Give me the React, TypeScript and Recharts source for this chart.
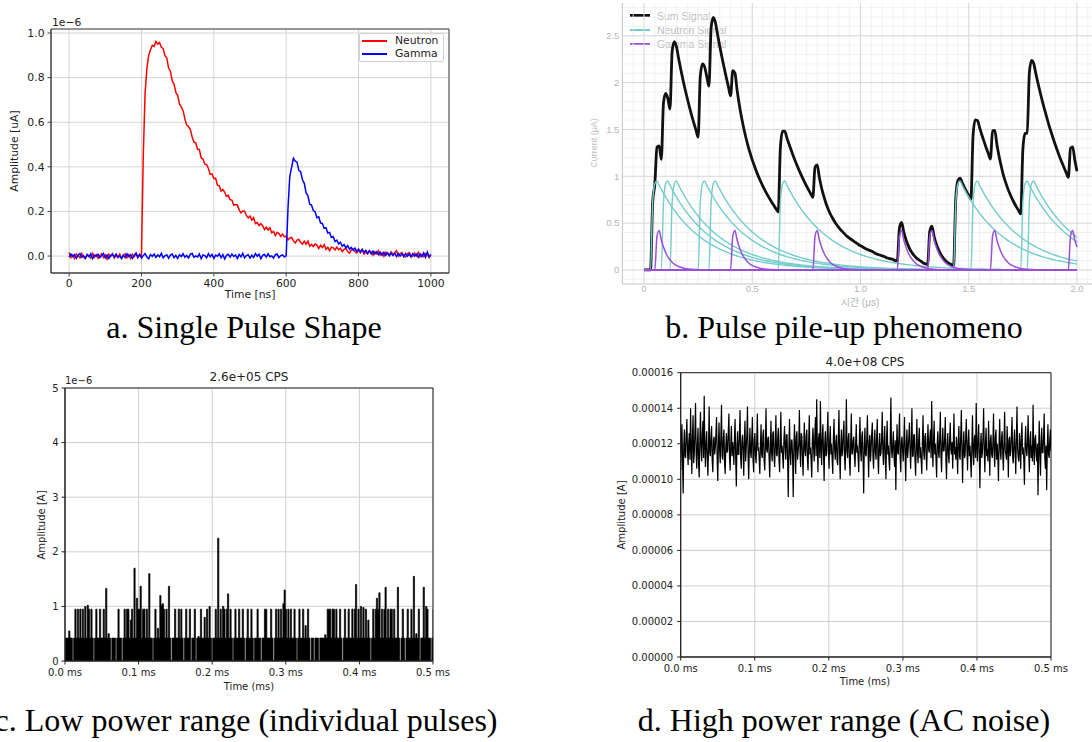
import React from 'react';
import {
  LineChart, Line, XAxis, YAxis, CartesianGrid, ReferenceArea, ReferenceLine, AreaChart, Area,
} from 'recharts';

// ---------------- a. Single Pulse Shape (sampled every 5 ns) ----------------
const aStepNs = 5;
const aNeutron = [
  0.016, -0.006, 0.004, -0.011, 0.009, 0.002, -0.008, 0.011, -0.004, -0.012,
  0.007, 0.001, -0.009, 0.012, -0.005, 0.006, -0.01, 0.003, 0.01, -0.007,
  0.005, -0.013, 0.008, -0.002, 0.011, -0.009, 0.002, -0.006, 0.009, -0.012,
  0.004, 0.01, -0.007, 0.006, -0.011, 0.008, -0.003, 0.012, -0.008, 0.005,
  -0.002,
  0.45, 0.73, 0.84, 0.9, 0.925, 0.945, 0.94, 0.962, 0.95, 0.957, 0.936, 0.931, 0.897, 0.889, 0.843, 0.829, 0.785, 0.771, 0.734,
  0.721, 0.682, 0.669, 0.652, 0.615, 0.587, 0.581, 0.567, 0.535, 0.511,
  0.508, 0.479, 0.478, 0.44, 0.435, 0.412, 0.411, 0.393, 0.366, 0.368,
  0.347, 0.349, 0.318, 0.316, 0.291, 0.299, 0.286, 0.267, 0.272, 0.253,
  0.251, 0.228, 0.231, 0.229, 0.207, 0.194, 0.202, 0.201, 0.182, 0.171,
  0.179, 0.161, 0.172, 0.145, 0.15, 0.137, 0.145, 0.136, 0.119, 0.129,
  0.117, 0.127, 0.104, 0.11, 0.092, 0.106, 0.101, 0.088, 0.099, 0.086,
  0.09, 0.073, 0.081, 0.084, 0.068, 0.059, 0.072, 0.075, 0.061, 0.054,
  0.067, 0.053, 0.067, 0.044, 0.052, 0.043, 0.054, 0.049, 0.034, 0.048,
  0.038, 0.051, 0.03, 0.039, 0.024, 0.04, 0.037, 0.027, 0.04, 0.029,
  0.035, 0.02, 0.03, 0.035, 0.02, 0.013, 0.027, 0.032, 0.019, 0.014,
  0.028, 0.015, 0.03, 0.009, 0.018, 0.01, 0.023, 0.018, 0.004, 0.019,
  0.01, 0.024, 0.004, 0.014, -0.001, 0.017, 0.014, 0.005, 0.019, 0.008,
  0.015, 0.024, 0.0, 0.011, 0.016, 0.002, -0.004, 0.01, 0.016, 0.004,
  -0.001, 0.013, 0.001, 0.017, -0.004, 0.006, -0.002, 0.011, 0.007, -0.006,
  0.009,
];
const aGamma = [
  -0.005, 0.009, -0.002, 0.007, -0.01, 0.003, 0.011, -0.006, 0.001, -0.009,
  0.006, -0.003, 0.01, -0.012, 0.004, -0.001, 0.008, -0.007, 0.002, 0.012,
  -0.008, 0.005, -0.011, 0.003, 0.007, -0.004, 0.009, -0.006, 0.0, -0.01,
  0.004, -0.007, 0.01, -0.002, 0.006, -0.011, 0.003, 0.013, -0.005, 0.008,
  -0.009, 0.002, 0.011, -0.004, -0.012, 0.007, -0.001, 0.009, -0.006, 0.005,
  -0.003, 0.012, -0.008, 0.001, 0.006, -0.01, 0.004, 0.009, -0.007, 0.003,
  -0.011, 0.006, -0.002, 0.01, -0.005, 0.003, -0.009, 0.008, 0.012, -0.006,
  0.001, -0.004, 0.009, -0.012, 0.005, 0.002, -0.008, 0.011, -0.003, 0.007,
  -0.01, 0.004, -0.001, 0.01, -0.007, 0.006, -0.013, 0.003, 0.008, -0.005,
  0.009, -0.002, 0.005, -0.011, 0.007, -0.004, 0.012, -0.008, 0.002, 0.006,
  -0.009, 0.004, -0.006, 0.011, -0.001, 0.008, -0.012, 0.003, 0.007, -0.005,
  0.01, -0.003, 0.001, -0.009, 0.006, 0.009, -0.007, 0.002, 0.005, -0.004,
  0.001, 0.214, 0.357, 0.398, 0.438, 0.425, 0.421, 0.384, 0.378, 0.342,
  0.326, 0.283, 0.271, 0.232, 0.229, 0.204, 0.199, 0.172, 0.176, 0.148,
  0.146, 0.124, 0.127, 0.103, 0.106, 0.083, 0.087, 0.065, 0.071, 0.054,
  0.062, 0.044, 0.052, 0.036, 0.047, 0.031, 0.039, 0.026, 0.036, 0.021,
  0.031, 0.018, 0.029, 0.016, 0.026, 0.012, 0.024, 0.01, 0.022, 0.009,
  0.019, 0.006, 0.017, 0.004, 0.016, 0.003, 0.014, 0.001, 0.013, 0.002,
  0.012, -0.002, 0.011, 0.0, 0.01, -0.003, 0.012, -0.001, 0.009, -0.004,
  0.011, 0.0, 0.008, -0.005, 0.01, -0.002, 0.014, -0.006, 0.018, -0.003,
  0.004,
];
const aXTicks = [0, 200, 400, 600, 800, 1000];
const aYTicks = [0, 0.2, 0.4, 0.6, 0.8, 1.0];

// ---------------- b. Pulse pile-up (sampled every 0.01 us) ----------------
const bStepUs = 0.01;
const bSamples = 201;
const bNeutronStartsUs = [0.03, 0.08, 0.12, 0.25, 0.3, 0.62, 1.43, 1.51, 1.74, 1.77];
const bGammaStartsUs = [0.05, 0.4, 0.78, 1.17, 1.31, 1.6, 1.96];
const bNeutronPulse = [
  0, 0.72, 0.92, 0.95,
  0.904, 0.86, 0.818, 0.778, 0.74, 0.704, 0.669, 0.637, 0.606, 0.576,
  0.548, 0.521, 0.496, 0.472, 0.449, 0.427, 0.406, 0.386, 0.367, 0.349,
  0.332, 0.316, 0.301, 0.286, 0.272, 0.259, 0.246, 0.234, 0.223, 0.212,
  0.202, 0.192, 0.182, 0.174, 0.165, 0.157, 0.149, 0.142, 0.135, 0.129,
  0.122, 0.116, 0.111, 0.105, 0.1, 0.095, 0.091, 0.086, 0.082, 0.078,
  0.074, 0.071, 0.067, 0.064, 0.061, 0.058, 0.055, 0.052, 0.05, 0.047,
  0.045, 0.043, 0.041, 0.039, 0.037, 0.035, 0.033, 0.032, 0.03, 0.029,
  0.027, 0.026, 0.025, 0.023, 0.022, 0.021, 0.02, 0.019, 0.018, 0.017,
  0.017, 0.016, 0.015, 0.014, 0.013, 0.013, 0.012, 0.011, 0.011, 0.011,
  0.01, 0.01, 0.009, 0.009, 0.008, 0.008, 0.007, 0.007, 0.007, 0.006,
];
const bGammaPulse = [
  0, 0.36, 0.42, 0.32, 0.245, 0.187, 0.142, 0.109, 0.083, 0.063, 0.048,
  0.037, 0.028, 0.021, 0.016, 0.012, 0.009, 0.007, 0.005, 0.004, 0.003, 0.002, 0.001,
];
const bXTicks = [0, 0.5, 1.0, 1.5, 2.0];
const bYTicks = [0, 0.5, 1, 1.5, 2, 2.5];

// ---------------- c. Low power range (0.5 ms window) ----------------
const cAmplitudeMicroA = [
  0.42, 0.42, 0.42, 0.55, 0.42, 0.42, 0, 0.42, 0.95, 0.42, 0.95, 0.42, 0.95, 0.42, 0.95, 0.42, 1.0, 0.42, 1.02, 0.95,
  0.42, 0.95, 0.42, 0, 0.42, 0.95, 0.42, 0.42, 0.95, 0.42, 0.42, 0.95, 0.42, 1.33, 0.42, 0.5, 0.42, 0, 0.42, 0.42,
  0.42, 0, 0.42, 0.95, 0.42, 0.42, 0, 0.42, 0.95, 0.42, 0.95, 0.95, 0.42, 0.75, 0.95, 0.42, 1.7, 0.42, 1.15, 0.95,
  0.95, 1.37, 0.42, 0.95, 0.95, 0.42, 0.95, 0.42, 1.6, 0.42, 0.42, 0, 0.42, 0.95, 0.42, 0.6, 0.42, 1.2, 1.02, 1.05,
  0.95, 0.42, 0.95, 0.42, 1.37, 0.42, 0, 0.42, 0.42, 0.95, 0.42, 0.42, 0.95, 0.42, 0.95, 0.42, 0, 0.42, 0.95, 0.42,
  0.42, 0.95, 0, 0.42, 0.42, 0.95, 0, 0.42, 0.45, 0.42, 0.95, 0.42, 0.42, 0.8, 0.42, 0.95, 0.42, 1.0, 0.42, 0,
  0.42, 0.42, 0.95, 0.42, 2.25, 0.42, 0.95, 0.42, 1.0, 0.95, 0.42, 0.95, 1.23, 0.42, 0.95, 0.42, 0, 0.42, 0.95, 0.42,
  0.42, 0.95, 0.42, 0.42, 0.95, 0.42, 0, 0.42, 0.95, 0.42, 0.42, 0.95, 0.42, 0, 0.42, 0.42, 0.95, 0.42, 0.42, 0,
  0.42, 0.42, 0.95, 0.95, 0.42, 0.42, 0.42, 0.95, 0.42, 0, 0.42, 0.95, 0.42, 0.95, 0.42, 0.95, 0.42, 1.05, 1.3, 0.95,
  0.42, 0.95, 0.42, 0.95, 0.42, 0.42, 0.95, 0.42, 0, 0.42, 0.95, 0.42, 0.42, 0.95, 0.42, 0.65, 0.42, 0.95, 0.42, 0,
  0.42, 0.42, 0, 0.42, 0.42, 0.42, 0, 0.42, 0.42, 0.42, 0.42, 0.48, 0.42, 0.95, 0.95, 0.95, 0.42, 0.95, 0.95, 0.42,
  0.95, 0.42, 0.42, 0.95, 0.42, 0, 0.42, 0.95, 0.42, 0.42, 0.95, 0.42, 0.42, 0.95, 0.42, 0.95, 1.4, 0.42, 0.95, 0.42,
  1.0, 0.42, 0.98, 0.42, 0.95, 0.42, 0.75, 0.42, 0, 0.42, 0.95, 0.42, 0.95, 1.15, 0.95, 1.25, 0.42, 0.95, 0.42, 0.95,
  1.35, 0.42, 0.95, 0.42, 0.95, 0.95, 0.42, 0.95, 0.42, 0.42, 1.35, 0.42, 0, 0.42, 0.95, 0.42, 0, 0.42, 0.95, 0.42,
  0.42, 0.95, 0.42, 1.55, 0.42, 0.5, 0.42, 0.95, 0, 0.42, 0.42, 1.35, 0.42, 1.0, 0.95, 0.42, 0.42, 0, 0.42, 0.95,
];
const cXTicks = [0, 0.1, 0.2, 0.3, 0.4, 0.5];
const cYTicks = [0, 1, 2, 3, 4, 5];

// ---------------- d. High power range (0.5 ms window, in units of 1e-6 A) ----------------
const dAmplitudeMicroA = [
  105, 122, 131, 110, 92, 119, 128, 113, 112, 125, 134, 116, 108, 121, 126, 111, 140, 118, 103, 124,
  136, 109, 115, 127, 143, 114, 106, 120, 129, 108, 101, 123, 138, 117, 110, 126, 133, 112, 147, 119,
  107, 121, 127, 112, 102, 118, 141, 115, 113, 124, 130, 110, 104, 122, 124, 114, 118, 126, 135, 111,
  99, 120, 132, 116, 109, 125, 142, 113, 111, 123, 128, 109, 103, 119, 126, 115, 116, 127, 137, 112,
  105, 120, 130, 113, 121, 117, 108, 124, 134, 111, 96, 119, 127, 114, 114, 126, 139, 112, 106, 121,
  125, 116, 102, 123, 133, 110, 117, 125, 141, 113, 100, 118, 129, 115, 112, 124, 135, 111, 104, 122,
  126, 113, 109, 122, 137, 116, 118, 111, 103, 120, 131, 114, 112, 125, 128, 110, 105, 119, 140, 117,
  115, 123, 124, 112, 101, 118, 133, 115, 110, 126, 127, 113, 107, 121, 136, 114, 113, 124, 129, 111,
  104, 121, 138, 115, 119, 112, 106, 123, 130, 117, 111, 125, 125, 110, 90, 118, 134, 114, 108, 122,
  122, 113, 90, 116, 131, 119, 103, 124, 127, 111, 116, 120, 139, 115, 107, 126, 124, 112, 102, 119,
  132, 116, 113, 124, 128, 111, 105, 121, 136, 114, 118, 110, 101, 122, 129, 117, 110, 125, 135, 113,
  145, 119, 104, 123, 126, 112, 144, 118, 108, 124, 131, 115, 99, 120, 127, 113, 114, 125, 138, 116,
  106, 122, 130, 114, 120, 111, 103, 123, 134, 117, 111, 121, 125, 110, 108, 124, 139, 115, 100, 119,
  128, 113, 116, 126, 133, 112, 105, 120, 145, 116, 112, 123, 126, 110, 102, 121, 137, 114, 115, 122,
  124, 113, 107, 120, 131, 115, 119, 112, 104, 122, 135, 116, 110, 124, 127, 111, 92, 118, 129, 114,
  113, 123, 136, 117, 101, 121, 125, 110, 117, 126, 132, 113, 106, 120, 128, 115, 111, 124, 134, 112,
  103, 119, 126, 113, 115, 122, 138, 116, 108, 121, 130, 111, 100, 123, 133, 114, 119, 110, 105, 124,
  146, 117, 112, 120, 127, 113, 107, 122, 94, 118, 131, 115, 114, 125, 137, 112, 104, 121, 124, 116,
  110, 122, 135, 114, 99, 120, 128, 112, 117, 124, 132, 116, 106, 121, 140, 113, 113, 125, 125, 111,
  102, 119, 134, 115, 109, 123, 129, 112, 118, 110, 103, 121, 136, 116, 111, 124, 126, 113, 105, 120,
  131, 117, 115, 123, 128, 112, 144, 119, 107, 122, 133, 114, 120, 111, 101, 121, 127, 115, 112, 124,
  138, 113, 104, 120, 129, 116, 116, 123, 135, 111, 100, 119, 126, 114, 109, 122, 132, 117, 114, 121,
  106, 120, 137, 114, 118, 111, 124, 116, 103, 122, 130, 113, 111, 125, 139, 115, 98, 119, 127, 112,
  113, 124, 134, 117, 105, 121, 128, 113, 119, 110, 101, 120, 136, 115, 108, 123, 125, 112, 143, 118,
  110, 123, 131, 114, 95, 119, 126, 112, 115, 124, 140, 116, 104, 121, 129, 113, 117, 110, 133, 118,
  102, 122, 125, 114, 112, 120, 137, 115, 107, 124, 128, 111, 120, 113, 99, 121, 134, 116, 111, 123,
  127, 114, 105, 121, 138, 116, 114, 111, 130, 119, 101, 122, 124, 113, 116, 125, 135, 112, 109, 120,
  128, 115, 103, 123, 141, 117, 112, 110, 126, 118, 106, 124, 132, 114, 118, 111, 97, 120, 130, 116,
  113, 121, 136, 115, 104, 122, 127, 112, 119, 110, 142, 117, 108, 123, 125, 114, 110, 120, 91, 116,
  133, 113, 102, 121, 129, 115, 115, 124, 137, 112, 106, 119, 94, 117, 131, 114, 112, 122, 128, 116,
];
const dXTicks = [0, 0.1, 0.2, 0.3, 0.4, 0.5];
const dYTicks = [0, 20, 40, 60, 80, 100, 120, 140, 160];

// ---------------- tables built from the arrays ----------------
const aRows = aNeutron.map((v, i) => ({ t: i * aStepNs, neutron: v, gamma: aGamma[i] }));

const pulseAt = (shape: number[], startUs: number, i: number) => {
  const k = i - Math.round(startUs / bStepUs);
  return k >= 0 && k < shape.length ? shape[k] : 0;
};
const bRows = Array.from({ length: bSamples }, (_, i) => {
  const row: Record<string, number> = { t: Math.round(i * bStepUs * 100) / 100 };
  let sum = 0;
  bNeutronStartsUs.forEach((s, j) => { const v = pulseAt(bNeutronPulse, s, i); row['n' + j] = v; sum += v; });
  bGammaStartsUs.forEach((s, j) => { const v = pulseAt(bGammaPulse, s, i); row['g' + j] = v; sum += v; });
  row.sum = Math.round(sum * 1000) / 1000;
  return row;
});
const bMinorX: number[] = [];
for (let k = -1; k <= 42; k++) if (k % 10 !== 0) bMinorX.push(Math.round(k * 5) / 100);
const bMinorY: number[] = [];
for (let k = -1; k <= 28; k++) if (k % 5 !== 0) bMinorY.push(k / 10);

const cRows = cAmplitudeMicroA.map((v, i) => ({ t: (i * 0.5) / (cAmplitudeMicroA.length - 1), v }));
const dRows = dAmplitudeMicroA.map((v, i) => ({ t: (i * 0.5) / (dAmplitudeMicroA.length - 1), v }));

// ---------------- styling helpers ----------------
const FONT_MPL = "'DejaVu Sans', sans-serif";
const FONT_GG = "'Liberation Sans', 'Noto Sans CJK KR', sans-serif";
const FONT_CAP = "'Liberation Serif', 'Times New Roman', serif";

type TxtProps = {
  x: number; y: number; size: number; children: React.ReactNode;
  color?: string; rotate?: number; family?: string; align?: 'center' | 'left' | 'right';
};
function Txt({ x, y, size, children, color = '#222', rotate = 0, family = FONT_MPL, align = 'center' }: TxtProps) {
  const tx = align === 'center' ? '-50%' : align === 'left' ? '0%' : '-100%';
  return (
    <div
      style={{
        position: 'absolute', left: x, top: y, fontSize: size, lineHeight: 1, fontFamily: family,
        color, whiteSpace: 'nowrap', transform: `translate(${tx},-50%) rotate(${rotate}deg)`,
      }}
    >
      {children}
    </div>
  );
}

const mplTick = (size: number) => ({ fontSize: size, fill: '#222', fontFamily: FONT_MPL });

function ChartA() {
  return (
    <div style={{ position: 'absolute', left: 0, top: 0 }}>
      <LineChart width={460} height={310} data={aRows} margin={{ top: 29, right: 11, bottom: 0, left: 0 }}>
        <CartesianGrid stroke="#d4d4d4" strokeWidth={1} />
        <XAxis dataKey="t" type="number" domain={[-50, 1050]} ticks={aXTicks} allowDataOverflow height={37}
          tickSize={3.5} tickMargin={3} stroke="#444" tick={mplTick(10.8)} />
        <YAxis type="number" domain={[-0.076, 1.018]} ticks={aYTicks} allowDataOverflow width={51}
          tickSize={3.5} tickMargin={3} stroke="#444" tick={mplTick(10.8)}
          tickFormatter={(v: number) => v.toFixed(1)} />
        <Line dataKey="neutron" type="linear" stroke="#ff0000" strokeWidth={1.5} dot={false} isAnimationActive={false} />
        <Line dataKey="gamma" type="linear" stroke="#0000ff" strokeWidth={1.5} dot={false} isAnimationActive={false} />
        <ReferenceArea x1={-50} x2={1050} y1={-0.076} y2={1.018} fill="none" stroke="#444" ifOverflow="visible" />
      </LineChart>
      <Txt x={52} y={23} size={10.8} align="left">1e−6</Txt>
      <Txt x={15} y={151} size={10.8} rotate={-90}>Amplitude [uA]</Txt>
      <Txt x={250} y={295} size={10.8}>Time [ns]</Txt>
      <div style={{ position: 'absolute', left: 359, top: 33, width: 85, height: 29, border: '1px solid #d0d0d0',
        borderRadius: 2, background: 'rgba(255,255,255,0.85)', boxSizing: 'border-box' }} />
      <div style={{ position: 'absolute', left: 362, top: 40.3, width: 25, height: 1.5, background: '#ff0000' }} />
      <div style={{ position: 'absolute', left: 362, top: 53.3, width: 25, height: 1.5, background: '#0000ff' }} />
      <Txt x={395} y={41} size={10.8} align="left">Neutron</Txt>
      <Txt x={395} y={54} size={10.8} align="left">Gamma</Txt>
    </div>
  );
}

function ChartB() {
  const gridZ = { zIndex: -90 } as any;
  return (
    <>
      <div style={{ position: 'absolute', left: 630, top: 14.3, width: 20, height: 3, background: '#111' }} />
      <div style={{ position: 'absolute', left: 630, top: 28.7, width: 20, height: 2, background: '#74cccb' }} />
      <div style={{ position: 'absolute', left: 630, top: 42.7, width: 20, height: 2, background: '#9b4ed6' }} />
      <Txt x={657} y={16} size={10.5} family={FONT_GG} color="#bdbdbd" align="left">Sum Signal</Txt>
      <Txt x={657} y={30} size={10.5} family={FONT_GG} color="#bdbdbd" align="left">Neutron Signal</Txt>
      <Txt x={657} y={44} size={10.5} family={FONT_GG} color="#bdbdbd" align="left">Gamma Signal</Txt>
      <div style={{ position: 'absolute', left: 590, top: 0 }}>
        <LineChart width={510} height={310} data={bRows} margin={{ top: 3, right: 1.35, bottom: 0, left: 2.35 }}>
          {bMinorX.map((v) => (
            <ReferenceLine key={'mx' + v} x={v} stroke="#ededed" strokeWidth={0.8} {...gridZ} />
          ))}
          {bMinorY.map((v) => (
            <ReferenceLine key={'my' + v} y={v} stroke="#ededed" strokeWidth={0.8} {...gridZ} />
          ))}
          {bXTicks.map((v) => (
            <ReferenceLine key={'Mx' + v} x={v} stroke="#d6d6d6" strokeWidth={1} {...gridZ} />
          ))}
          {bYTicks.map((v) => (
            <ReferenceLine key={'My' + v} y={v} stroke="#d6d6d6" strokeWidth={1} {...gridZ} />
          ))}
          <XAxis dataKey="t" type="number" domain={[-0.1, 2.1]} ticks={bXTicks} allowDataOverflow height={26}
            tickLine={false} tickSize={0} tickMargin={1} axisLine={{ stroke: '#c4c4c4' }}
            tick={{ fontSize: 9.5, fill: '#b5b5b5', fontFamily: FONT_GG }}
            tickFormatter={(v: number) => (v === 0 ? '0' : v.toFixed(1))} />
          <YAxis type="number" domain={[-0.15, 2.85]} ticks={bYTicks} allowDataOverflow width={30}
            tickLine={false} tickSize={0} tickMargin={3} axisLine={{ stroke: '#c4c4c4' }}
            tick={{ fontSize: 9.5, fill: '#b5b5b5', fontFamily: FONT_GG }} />
          <Line dataKey="sum" type="monotone" stroke="#111111" strokeWidth={2.8} dot={false} isAnimationActive={false} />
          {bNeutronStartsUs.map((_, j) => (
            <Line key={'n' + j} dataKey={'n' + j} type="monotone" stroke="#74cccb" strokeWidth={1.4}
              dot={false} isAnimationActive={false} />
          ))}
          {bGammaStartsUs.map((_, j) => (
            <Line key={'g' + j} dataKey={'g' + j} type="monotone" stroke="#9b4ed6" strokeWidth={1.5}
              dot={false} isAnimationActive={false} />
          ))}
        </LineChart>
      </div>
      <Txt x={860} y={303} size={10} family={FONT_GG} color="#b5b5b5">시간 (μs)</Txt>
      <Txt x={594} y={143} size={9} family={FONT_GG} color="#c0c0c0" rotate={-90}>Current (μA)</Txt>
    </>
  );
}

function ChartC() {
  return (
    <>
      <div style={{ position: 'absolute', left: 0, top: 360 }}>
        <AreaChart width={460} height={340} data={cRows} margin={{ top: 28, right: 27, bottom: 0, left: 0 }}>
          <CartesianGrid stroke="#cfcfcf" strokeWidth={1} />
          <XAxis dataKey="t" type="number" domain={[0, 0.5]} ticks={cXTicks} allowDataOverflow height={39}
            tickSize={3.5} tickMargin={4} stroke="#222" tick={mplTick(10)}
            tickFormatter={(v: number) => v.toFixed(1) + ' ms'} />
          <YAxis type="number" domain={[0, 5]} ticks={cYTicks} allowDataOverflow width={65}
            tickSize={3.5} tickMargin={3} stroke="#222" tick={mplTick(10)} />
          <Area dataKey="v" type="stepAfter" stroke="#000" strokeWidth={0.7} fill="#000" fillOpacity={1}
            dot={false} isAnimationActive={false} />
          <ReferenceArea x1={0} x2={0.5} y1={0} y2={5} fill="none" stroke="#222" ifOverflow="visible" />
        </AreaChart>
      </div>
      <Txt x={249} y={377} size={12}>2.6e+05 CPS</Txt>
      <Txt x={65} y={381} size={10} align="left">1e−6</Txt>
      <Txt x={42} y={525} size={10} rotate={-90}>Amplitude [A]</Txt>
      <Txt x={249} y={687} size={10}>Time (ms)</Txt>
    </>
  );
}

function ChartD() {
  return (
    <>
      <div style={{ position: 'absolute', left: 590, top: 350 }}>
        <LineChart width={502} height={350} data={dRows} margin={{ top: 22.7, right: 41, bottom: 0, left: 0 }}>
          <CartesianGrid stroke="#cfcfcf" strokeWidth={1} />
          <XAxis dataKey="t" type="number" domain={[0, 0.5]} ticks={dXTicks} allowDataOverflow height={43}
            tickSize={3.5} tickMargin={4} stroke="#222" tick={mplTick(10)}
            tickFormatter={(v: number) => v.toFixed(1) + ' ms'} />
          <YAxis type="number" domain={[0, 160]} ticks={dYTicks} allowDataOverflow width={90.7}
            tickSize={3.5} tickMargin={4} stroke="#222" tick={mplTick(10)}
            tickFormatter={(v: number) => (v * 1e-6).toFixed(5)} />
          <Line dataKey="v" type="linear" stroke="#000" strokeWidth={1.2} dot={false} isAnimationActive={false} />
          <ReferenceArea x1={0} x2={0.5} y1={0} y2={160} fill="none" stroke="#222" ifOverflow="visible" />
        </LineChart>
      </div>
      <Txt x={865} y={362} size={12}>4.0e+08 CPS</Txt>
      <Txt x={622} y={515} size={10} rotate={-90}>Amplitude [A]</Txt>
      <Txt x={865} y={682} size={10}>Time (ms)</Txt>
    </>
  );
}

export default function App() {
  return (
    <div style={{ position: 'absolute', left: 0, top: 0, width: 1092, height: 742, overflow: 'hidden', background: '#fff' }}>
      <ChartA />
      <ChartB />
      <ChartC />
      <ChartD />
      <Txt x={244} y={327} size={32} family={FONT_CAP} color="#000">a. Single Pulse Shape</Txt>
      <Txt x={844} y={327} size={32} family={FONT_CAP} color="#000">b. Pulse pile-up phenomeno</Txt>
      <Txt x={246} y={720} size={32} family={FONT_CAP} color="#000">c. Low power range (individual pulses)</Txt>
      <Txt x={844} y={720} size={32} family={FONT_CAP} color="#000">d. High power range (AC noise)</Txt>
    </div>
  );
}
